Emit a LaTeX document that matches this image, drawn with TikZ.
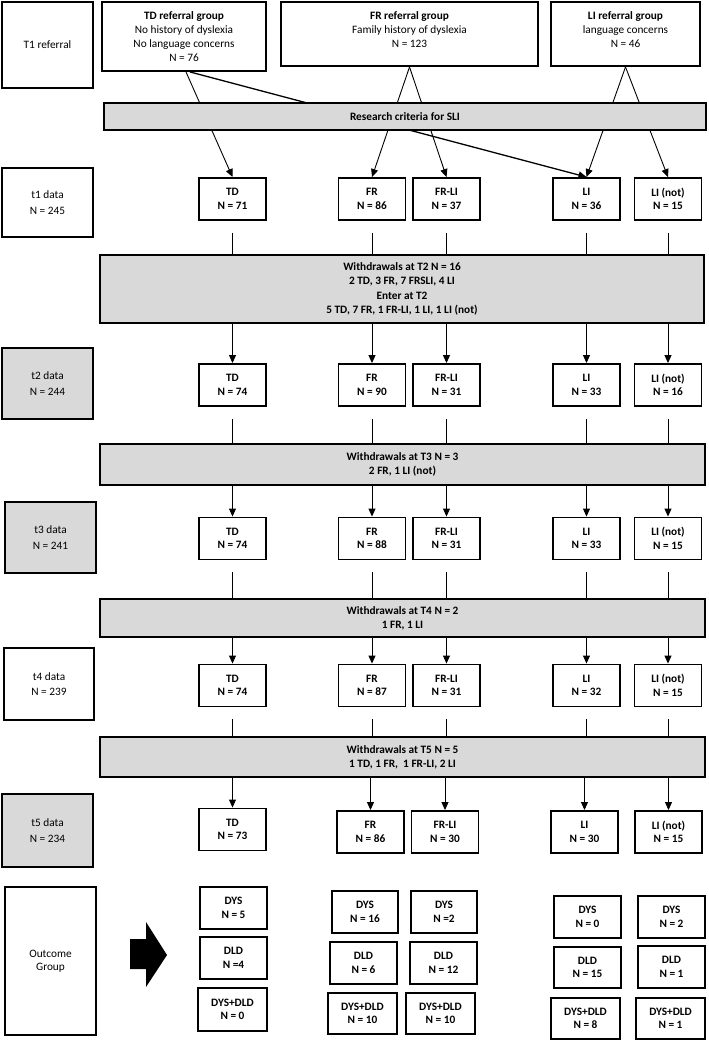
\documentclass[tikz,border=0pt]{standalone}
\usepackage{fontspec}
\setmainfont{Carlito}
\usetikzlibrary{arrows.meta}
\definecolor{barfill}{HTML}{D9D9D9}
\begin{document}
\begin{tikzpicture}[x=1pt,y=-1pt,
  every node/.style={font=\fontsize{11.3}{14}\selectfont, align=center, inner sep=0pt},
  box/.style={draw, line width=1.9pt, fill=white},
  gbox/.style={box, fill=barfill},
  dbox/.style={box, font=\fontsize{11.3}{13.5}\selectfont\bfseries, minimum width=67pt, minimum height=42pt},
  bar/.style={draw, line width=1.9pt, fill=barfill, font=\fontsize{11.3}{14.4}\selectfont\bfseries},
  side/.style={box, minimum width=91pt, font=\fontsize{11.3}{15.5}\selectfont},
  conn/.style={line width=0.9pt},
  arr/.style={line width=0.9pt, -{Triangle[length=8pt,width=7pt]}},
]
\useasboundingbox (0,0) rectangle (709,1041);

% referral boxes
\node[box, minimum width=164, minimum height=69] (tdr) at (184,36.5) {\textbf{TD referral group}\\No history of dyslexia\\No language concerns\\N = 76};
\node[box, minimum width=257, minimum height=64] (frr) at (409.5,34) {\textbf{FR referral group}\\Family history of dyslexia\\N = 123\\[-6pt]\mbox{}};
\node[box, minimum width=149, minimum height=64] (lir) at (625.5,34) {\textbf{LI referral group}\\language concerns\\N = 46\\[-6pt]\mbox{}};

% side boxes
\node[side, minimum height=86] (t1r) at (47.5,45) {T1 referral};
\node[side, minimum height=69] (s1) at (47.5,202.5) {t1 data\\N = 245};
\node[side, gbox, minimum height=71] (s2) at (47.5,383.5) {t2 data\\N = 244};
\node[side, gbox, minimum height=71] (s3) at (50.5,537.5) {t3 data\\N = 241};
\node[side, minimum width=90, minimum height=72] (s4) at (49,684) {t4 data\\N = 239};
\node[side, gbox, minimum height=73] (s5) at (47.5,830.5) {t5 data\\N = 234};
\node[side, minimum height=148, font=\fontsize{11.3}{13.5}\selectfont] (out) at (50.5,961) {Outcome\\Group};

% t1 row
\node[dbox] (td1) at (232.5,199) {TD\\N = 71};
\node[dbox] (fr1) at (372,199) {FR\\N = 86};
\node[dbox] (frli1) at (446.5,199) {FR-LI\\N = 37};
\node[dbox] (li1) at (586.5,199) {LI\\N = 36};
\node[dbox] (lin1) at (668,199) {LI (not)\\N = 15};

% referral connectors (behind the SLI bar)
\draw[arr] ([xshift=2pt]tdr.south) -- (td1.north);
\draw[arr, line width=1.3pt] ([xshift=6pt]tdr.south) -- (li1.north);
\draw[arr] (frr.south) -- (fr1.north);
\draw[arr] (frr.south) -- (frli1.north);
\draw[arr] (lir.south) -- (li1.north);
\draw[arr] (lir.south) -- (lin1.north);

\node[bar, minimum width=602, minimum height=27] (sli) at (405,116.5) {Research criteria for SLI};

% t2 row
\node[dbox] (td2) at (232.5,385) {TD\\N = 74};
\node[dbox] (fr2) at (372,385) {FR\\N = 90};
\node[dbox] (frli2) at (446.5,385) {FR-LI\\N = 31};
\node[dbox] (li2) at (586.5,385) {LI\\N = 33};
\node[dbox] (lin2) at (668,385) {LI (not)\\N = 16};

% t3 row
\node[dbox] (td3) at (232.5,538.5) {TD\\N = 74};
\node[dbox] (fr3) at (372,538.5) {FR\\N = 88};
\node[dbox] (frli3) at (446.5,538.5) {FR-LI\\N = 31};
\node[dbox] (li3) at (586.5,538.5) {LI\\N = 33};
\node[dbox] (lin3) at (668,538.5) {LI (not)\\N = 15};

% t4 row
\node[dbox] (td4) at (232.5,685.5) {TD\\N = 74};
\node[dbox] (fr4) at (372,685.5) {FR\\N = 87};
\node[dbox] (frli4) at (446.5,685.5) {FR-LI\\N = 31};
\node[dbox] (li4) at (586.5,685.5) {LI\\N = 32};
\node[dbox] (lin4) at (668,685.5) {LI (not)\\N = 15};

% t5 row
\node[dbox] (td5) at (232.5,829.5) {TD\\N = 73};
\node[dbox] (fr5) at (370.5,832) {FR\\N = 86};
\node[dbox] (frli5) at (445,832) {FR-LI\\N = 30};
\node[dbox] (li5) at (584.5,832) {LI\\N = 30};
\node[dbox] (lin5) at (668.5,832) {LI (not)\\N = 15};

% withdrawal bars
\node[bar, minimum width=604, minimum height=68] (w2) at (402,289) {Withdrawals at T2 N = 16\\2 TD, 3 FR, 7 FRSLI, 4 LI\\Enter at T2\\5 TD, 7 FR, 1 FR-LI, 1 LI, 1 LI (not)};
\node[bar, minimum width=605, minimum height=41] (w3) at (402.5,464.5) {Withdrawals at T3 N = 3\\2 FR, 1 LI (not)};
\node[bar, minimum width=605, minimum height=38] (w4) at (402.5,618) {Withdrawals at T4 N = 2\\1 FR, 1 LI};
\node[bar, minimum width=605, minimum height=40] (w5) at (402.5,757) {Withdrawals at T5 N = 5\\1 TD, 1 FR,\ \ 1 FR-LI, 2 LI};

% row connectors
\foreach \r/\n in {1/2,2/3,3/4,4/5}{
  \foreach \c in {td,fr,frli,li,lin}{
    \draw[conn] ([yshift=-12pt]\c\r.south) -- (\c\r.south |- w\n.north);
    \draw[arr] (\c\n.north |- w\n.south) -- (\c\n.north);
  }
}

% outcome arrow
\fill (130,939) -- (146,939) -- (146,922) -- (167,955) -- (146,987) -- (146,969) -- (130,969) -- cycle;

% outcome boxes
\node[dbox] (o1) at (233.5,908) {DYS\\N = 5};
\node[dbox] (o2) at (233.5,958) {DLD\\N =4};
\node[dbox, minimum width=69, minimum height=43] (o3) at (232.5,1009.5) {DYS+DLD\\N = 0};

\node[dbox, minimum width=66] (o4) at (365,912) {DYS\\N = 16};
\node[dbox] (o5) at (363.5,963) {DLD\\N = 6};
\node[dbox, minimum width=69, minimum height=41] (o6) at (362.5,1013.5) {DYS+DLD\\N = 10};

\node[dbox, minimum width=66] (o7) at (444,912) {DYS\\N =2};
\node[dbox] (o8) at (443.5,963) {DLD\\N = 12};
\node[dbox, minimum width=69, minimum height=41] (o9) at (440.5,1013.5) {DYS+DLD\\N = 10};

\node[dbox] (o10) at (587.5,917) {DYS\\N = 0};
\node[dbox, minimum height=41] (o11) at (587.5,967.5) {DLD\\N = 15};
\node[dbox, minimum width=69, minimum height=41] (o12) at (585.5,1018.5) {DYS+DLD\\N = 8};

\node[dbox] (o13) at (671.5,917) {DYS\\N = 2};
\node[dbox] (o14) at (671.5,967) {DLD\\N = 1};
\node[dbox, minimum width=69, minimum height=41] (o15) at (670.5,1018.5) {DYS+DLD\\N = 1};
\end{tikzpicture}
\end{document}
